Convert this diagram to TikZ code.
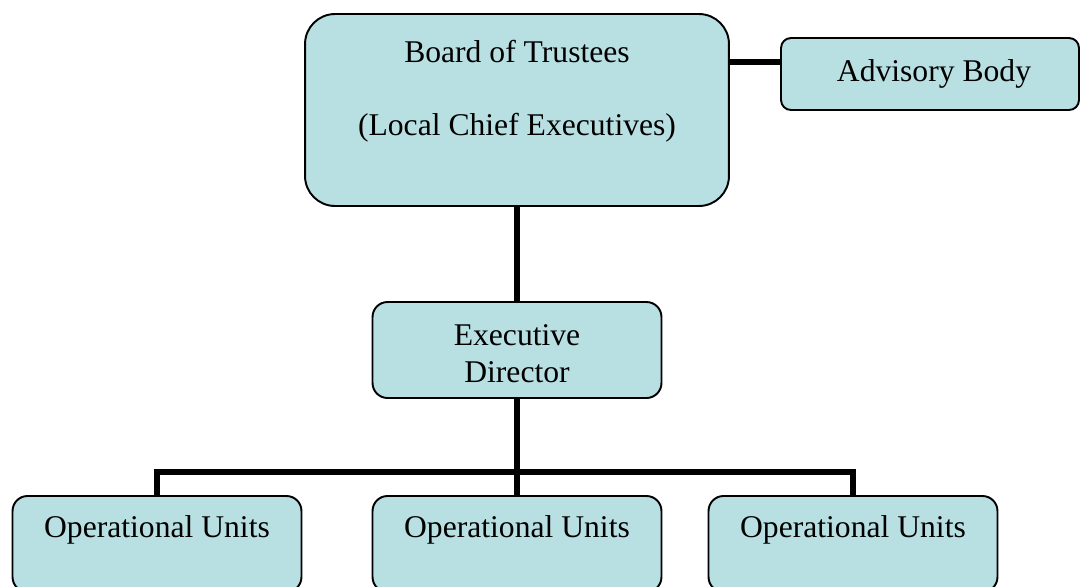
\documentclass[tikz,border=0pt]{standalone}
\usepackage{fontspec}
\setmainfont{Liberation Serif}
\usepackage{tikz}
\usetikzlibrary{positioning,calc}
\definecolor{boxC}{RGB}{184,224,227}

\begin{document}
\begin{tikzpicture}[x=0.02cm, y=-0.02cm, font=\fontsize{18}{21}\selectfont,
  b/.style={rectangle, rounded corners=3mm, draw=black, fill=boxC, line width=1.1pt,
            minimum width=5.78cm, minimum height=1.92cm, inner sep=0pt},
  t/.style={anchor=base, inner sep=0pt},
  link/.style={line width=3.4pt}]
  \useasboundingbox (0,0) rectangle (1080,586);
  % boxes
  \node[b, rounded corners=6mm, minimum width=8.48cm, minimum height=3.84cm] (board) at (517,110) {};
  \node[b, rounded corners=2mm, minimum width=5.96cm, minimum height=1.44cm] (adv) at (930,74) {};
  \node[b] (exec) at (517,350) {};
  \node[b] (op1) at (157,544) {};
  \node[b] (op2) at (517,544) {};
  \node[b] (op3) at (853,544) {};
  % texts
  \node[t] (boardA) at (517,62) {Board of Trustees};
  \node[t] (boardB) at (517,135) {(Local Chief Executives)};
  \node[t] (advT) at (934,81) {Advisory Body};
  \node[t] (execA) at (517,345) {Executive};
  \node[t] (execB) at (517,382) {Director};
  \node[t] (op1T) at (157,537) {Operational Units};
  \node[t] (op2T) at (517,537) {Operational Units};
  \node[t] (op3T) at (853,537) {Operational Units};
  % connectors
  \coordinate (bar) at (517,472);
  \draw[link] ([yshift=0.24cm]adv.west) -- ([yshift=0.24cm]adv.west -| board.east);
  \draw[link] (board.south) -- (exec.north);
  \draw[link] (exec.south) -- (op2.north);
  \draw[link] (op1.north) -- (op1.north |- bar) -- (op3.north |- bar) -- (op3.north);
\end{tikzpicture}
\end{document}
